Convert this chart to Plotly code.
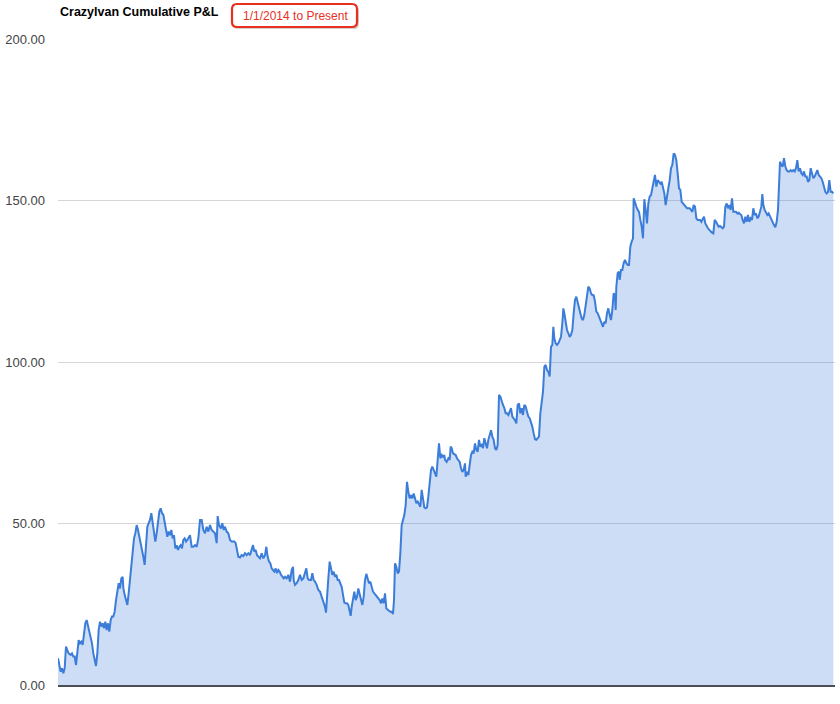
import plotly.graph_objects as go

# ---- data: trade number and cumulative P&L ----
trade_a = [0,4,8,12,16,20,24,28,32,38,42,46,50,54,58,62,66,70,74,78,82,86,90,94,98,102,106,110,114,118,
           122,126,130,134,138,142,146,150,154,158,162,166,170,174,178,182,186,190,194,196,200,204,208,212,
           216,220,224,228,232,236,240,244,248,252,256,260,264,268,272,276,280,284,288,292,296,300,304,308,
           312,316,320,324,328,332,336,340,344,348,352,356,360,364,368,372,376,380,384,388,392,396]
pnl_a = [8.3,6.2,4.1,5.2,3.6,5.2,11.9,10.8,9.8,9.3,
         9.8,8.8,8.8,6.2,10.8,13.9,12.9,13.4,12.4,15.5,
         19.1,20.1,18.1,17.0,15.0,12.9,9.8,7.2,5.9,9.8,
         17.0,19.6,18.1,19.1,17.6,19.6,17.0,19.1,16.5,20.1,
         21.2,21.2,22.7,26.3,28.4,31.5,29.9,33.0,33.5,30.0,
         27.9,25.8,24.8,28.4,32.5,38.7,40.8,45.4,47.0,49.5,
         48.0,45.9,44.9,42.8,39.7,37.2,45.4,49.0,50.1,51.1,
         53.2,50.1,47.5,44.4,47.0,51.1,53.7,54.7,53.2,52.7,
         50.6,48.5,45.9,47.5,46.4,48.0,45.4,46.4,42.3,43.3,
         41.8,42.8,43.3,42.3,44.9,45.4,44.4,44.9,45.9,46.4]

trade_b = [401,406,411,416,421,426,431,436,441,446,451,456,461,466,471,476,479,483,489,493,497,501,
           506,511,516,521,529,533,537,541,546,551,556,561,566,571,576,581,585,589,593,597,601,606,611,
           616,621,625,629,633,637,641,645,649,653,657,661,665,669,673,677,681,686,691,696,701,705,707,
           711,716,721,726,731,736,741,745,749,753,759,763,767]
pnl_b = [42.8,42.8,43.3,42.8,45.4,51.1,51.1,48.0,47.0,49.0,
         47.5,49.5,48.0,47.5,47.0,43.9,
         52.3,49.5,48.5,50.1,48.0,49.0,
         47.5,47.0,44.9,44.4,
         44.4,43.9,41.3,39.7,
         39.5,40.2,39.9,40.8,40.2,40.8,40.2,41.8,
         43.3,41.3,41.8,40.2,39.7,
         39.2,40.8,39.2,40.2,
         42.8,39.7,38.2,37.7,36.1,35.6,35.1,36.1,34.6,35.6,35.1,34.1,33.5,33.0,33.5,
         33.0,34.1,32.0,35.6,
         36.6,32.5,
         31.0,31.5,32.5,34.1,32.5,33.0,35.1,
         36.1,33.0,32.5,
         32.5,34.6,32.5]

trade_c = [771,776,781,786,791,796,801,804,807,811,815,819,823,827,831,835,839,843,847,851,855,859,863,
           867,871,875,878,881,885,889,893,897,901,905,909,913,917,921,925,929,933,937,941,945,949,953,
           957,961,965,969,973,977,981,985,989,993,997,1001,1005,1008,1011,1015,1019,1023,1027,1031,1035,
           1039,1043,1047,1051,1055,1059,1063,1067,1071,1075,1079,1083,1087,1091,1095,1099,1103,1107,1111,
           1115,1119,1123,1127,1131,1135,1139,1143,1147,1151,1155,1159]
pnl_c = [32.0,31.0,29.4,28.9,27.3,25.8,24.2,
         22.4,28.4,
         33.0,38.2,36.6,34.1,35.1,33.5,34.1,32.5,32.5,31.5,30.4,27.9,25.5,25.3,25.3,24.8,22.7,
         21.4,
         24.2,
         27.3,28.9,26.3,27.3,29.9,28.4,26.8,24.8,27.3,32.5,34.4,32.5,31.5,32.0,30.4,28.9,28.4,27.9,
         27.3,26.8,26.3,25.3,26.8,25.3,28.4,23.7,23.2,23.0,22.7,22.7,22.0,
         26.3,
         37.7,36.6,34.6,35.1,40.8,49.5,51.1,52.6,55.7,62.9,59.8,57.8,58.8,57.8,59.3,57.3,56.3,56.8,
         55.7,55.2,60.4,57.3,55.0,54.7,55.0,58.3,62.4,66.6,67.6,66.6,65.5,64.5,69.7,74.8,70.2,71.2,
         70.7,71.2]

trade_d = [1161,1166,1171,1175,1178,
           1181,1185,1189,1193,1197,1201,1205,1209,1213,1217,1221,
           1223,
           1227,1231,1235,1239,1243,1247,1251,1255,1259,1263,1267,1271,1275,1279,1283,1287,1291,1295,
           1299,1303,1307,1311,1315,1319,1323,1327,1331,1335,1339,1343,1347,1351,1355,1359,1363,1367,
           1371,1375,1379,1383,1387,1391,1395,1399,1403,1407,1411,1415,1419,1423,1427,1431,1435,1439,
           1443,1447,1451,1455,1459,1463,1467,1471,1475,1479,1483,
           1486,
           1489,1493,1497,1501,1505,1509,1513,
           1516,
           1519,1523,1527,1531,1535,1539,1543,1547]
pnl_d = [69.7,69.1,70.2,69.7,73.8,
         73.3,71.7,71.5,71.2,70.2,69.7,69.1,67.1,66.0,66.6,68.6,
         64.5,
         66.0,65.0,67.6,71.2,72.2,71.7,74.8,72.8,72.2,75.9,73.8,74.3,73.3,76.4,74.8,73.3,75.9,77.9,
         78.9,76.9,75.9,73.3,72.8,74.3,89.8,89.3,87.7,86.7,85.7,84.1,84.1,83.6,84.6,85.7,83.1,82.6,
         82.0,81.0,86.7,87.2,84.1,85.7,83.6,86.7,86.2,84.6,83.1,82.6,81.5,80.0,77.9,76.1,75.9,76.4,
         76.9,84.1,88.2,90.8,98.5,99.1,97.5,97.0,95.5,104.7,105.3,
         110.9,
         107.3,105.8,105.3,105.8,106.8,107.8,112.0,
         116.6,
         115.1,112.0,109.9,108.9,107.8,108.4,109.9,115.1]

trade_e = [1551,1555,1559,1563,1567,1571,1575,1579,1583,1587,1591,1595,1599,1603,1607,1611,1615,1619,
           1623,1627,1631,1635,1639,1643,1647,1651,1655,1659,1663,1667,1671,
           1673,1675,1679,1683,1685,
           1689,1693,1697,1701,1705,1709,1713,1717,1721,1725,
           1727,
           1731,1735,1739,1743,1747,1751,1755,
           1757,
           1759,1763,1767,1771,1775,1779,1783,1787,1791,1795,1799,1803,1807,1811,1815,1819,1823,1827,
           1831,1835,1839,1843,1847,1851,1855,1859,1863,1867,1871,1875,1879,1883,1887,1891,1895,1899,
           1903,1907,1911,1915,1919,1923]
pnl_e = [119.2,120.2,118.2,116.1,115.1,113.5,113.0,114.6,117.6,120.2,123.3,122.8,121.3,120.7,120.7,
         118.7,115.6,115.1,114.0,112.5,112.0,110.9,112.5,112.0,115.1,116.6,114.6,113.0,116.1,121.3,120.2,
         116.1,123.3,127.5,128.0,125.4,
         128.5,128.5,130.6,131.6,130.6,130.0,130.0,135.7,137.3,138.3,
         150.7,
         149.1,148.1,147.1,146.5,144.0,141.9,138.3,
         145.0,
         150.4,147.1,142.9,149.1,151.2,151.7,153.8,155.8,157.9,154.3,156.3,155.8,155.3,155.8,154.3,
         152.2,148.6,152.2,153.8,156.3,160.0,161.0,164.6,164.1,162.5,158.4,153.8,153.3,149.6,149.1,
         148.6,148.1,147.6,147.6,147.6,147.1,146.5,148.6,148.1,144.5,144.0,144.0]

trade_f = [1926,1930,1934,1938,1942,1946,1950,1954,1958,1962,1966,1970,1974,1978,1982,1986,1990,1994,
           1998,2002,2006,2010,2014,2018,2022,2026,2030,2034,2038,2042,2046,2050,2054,2058,2062,2066,
           2070,2074,2078,2082,2086,2090,2094,2098,2102,2106,2110,
           2113,
           2116,2120,2124,2128,2132,2136,2140,2144,2148,2152,2156,2160,
           2163,
           2166,2170,2174,2178,2182,2186,2190,2194,2198,2202,2206,2210,2214,2218,2222,2226,2230,2234,
           2238,2242,2246,2250,2254,2258,2262,2266,2270,2274,2278,2282,2286,2290,2294,2298,2302,2306,
           2310,2314,2318,2322,2326]
pnl_f = [144.0,143.4,144.0,145.0,142.9,141.9,141.4,140.9,140.3,140.0,
         139.8,144.0,143.4,142.4,141.9,142.1,141.7,141.4,141.9,148.1,
         149.1,147.6,148.6,147.1,150.7,146.5,146.5,146.5,146.0,146.2,
         145.8,145.5,144.0,142.9,145.0,143.4,145.5,143.4,144.5,144.0,
         147.6,145.5,146.0,144.5,145.0,146.5,148.1,
         152.0,
         148.6,147.1,146.5,145.5,146.0,145.0,144.0,143.4,142.4,141.7,143.4,147.1,
         157.4,
         162.0,161.0,160.5,163.1,160.5,159.4,159.0,159.0,159.4,159.0,
         159.4,159.0,160.0,162.5,159.0,160.0,158.4,157.9,159.0,157.4,
         157.4,155.8,156.3,160.0,157.9,156.9,157.4,158.4,159.4,157.9,
         157.4,156.9,155.8,154.3,152.7,152.2,152.7,156.3,152.7,152.7,
         152.2]

y_ticks = [0, 50, 100, 150, 200]
chart_title = "Crazylvan Cumulative P&L"
period_label = "1/1/2014 to Present"

# ---- assemble ----
trade_no, pnl = [], []
for t, p in [(trade_a, pnl_a), (trade_b, pnl_b), (trade_c, pnl_c),
             (trade_d, pnl_d), (trade_e, pnl_e), (trade_f, pnl_f)]:
    n = min(len(t), len(p))
    if len(t) != len(p):
        print("length mismatch", len(t), len(p))
    trade_no += t[:n]
    pnl += p[:n]

FONT = "Liberation Sans, Arial, sans-serif"
W, H = 840, 704
L, R, T, B = 58, 5, 39, 19
pw, ph = W - L - R, H - T - B

fig = go.Figure()
fig.add_trace(go.Scatter(
    x=trade_no, y=pnl, mode="lines",
    line=dict(color="#3b7dd8", width=2),
    fill="tozeroy", fillcolor="rgba(59,125,216,0.26)",
    hoverinfo="skip", showlegend=False,
))

def px_to_paper(px, py):
    return (px - L) / pw, (H - B - py) / ph

def rounded_rect(x0, y0, x1, y1, r):
    def P(x, y):
        a, b = px_to_paper(x, y)
        return f"{a:.5f},{b:.5f}"
    return (f"M {P(x0 + r, y0)} L {P(x1 - r, y0)} Q {P(x1, y0)} {P(x1, y0 + r)} "
            f"L {P(x1, y1 - r)} Q {P(x1, y1)} {P(x1 - r, y1)} "
            f"L {P(x0 + r, y1)} Q {P(x0, y1)} {P(x0, y1 - r)} "
            f"L {P(x0, y0 + r)} Q {P(x0, y0)} {P(x0 + r, y0)} Z")

shapes = [
    dict(type="path", xref="paper", yref="paper", path=rounded_rect(233, 6, 359, 29, 5),
         fillcolor="rgba(0,0,0,0.18)", line=dict(width=0), layer="above"),
    dict(type="path", xref="paper", yref="paper", path=rounded_rect(232, 4, 357, 27, 5),
         fillcolor="white", line=dict(color="#e8301f", width=2.2), layer="above"),
]

tx, ty = px_to_paper(295, 16)
hx, hy = px_to_paper(58, 12)
annotations = [
    dict(text=period_label, xref="paper", yref="paper", x=tx, y=ty, xanchor="center", yanchor="middle",
         showarrow=False, font=dict(family=FONT, size=12, color="#e8301f")),
    dict(text=f"<b>{chart_title}</b>", xref="paper", yref="paper", x=hx, y=hy, xanchor="left",
         yanchor="middle", showarrow=False, font=dict(family=FONT, size=12.5, color="#000000")),
]

fig.update_layout(
    width=W, height=H,
    margin=dict(l=L, r=R, t=T, b=B, pad=0, autoexpand=False),
    paper_bgcolor="white", plot_bgcolor="white",
    font=dict(family=FONT),
    xaxis=dict(range=[0, 2331], showticklabels=False, showgrid=False, zeroline=False,
               showline=True, linecolor="#4d4d55", linewidth=1.5, ticks="", automargin=False),
    yaxis=dict(range=[0, 200], tickvals=y_ticks, tickformat=".2f", showgrid=True,
               gridcolor="#d6d6d6", gridwidth=1, zeroline=False, showline=False, ticks="",
               ticklabelstandoff=12, automargin=False,
               tickfont=dict(family=FONT, size=13, color="#444444")),
    shapes=shapes, annotations=annotations,
)

fig.write_html("out.html", config={"displayModeBar": False},
               post_script="document.body.style.margin='0px';")
